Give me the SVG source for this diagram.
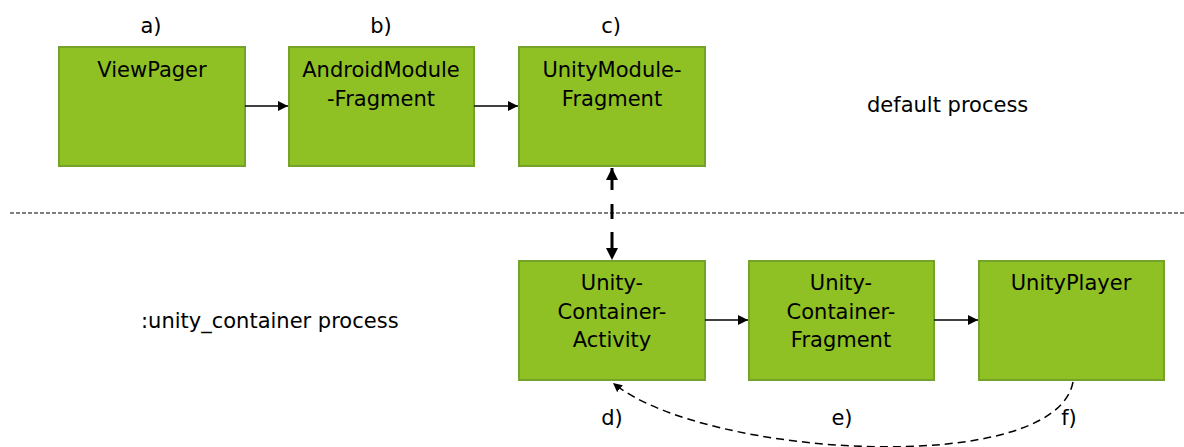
<svg xmlns="http://www.w3.org/2000/svg" width="1184" height="447" viewBox="0 0 1184 447">
<defs>
<style>
.box{fill:#8fc024;stroke:#74a22a;stroke-width:2}
text{font-family:"DejaVu Sans","Liberation Sans",sans-serif;font-size:21px;fill:#000}
.t{text-anchor:middle}
.ln{stroke:#000;stroke-width:1.5;fill:none}
</style>
<marker id="ah" viewBox="0 0 10 10" refX="10" refY="5" markerWidth="10" markerHeight="10" markerUnits="userSpaceOnUse" orient="auto"><path d="M0,0 L10,5 L0,10 z" fill="#000"/></marker>
<marker id="ahb" viewBox="0 0 10 10" refX="10" refY="5" markerWidth="9" markerHeight="9" markerUnits="userSpaceOnUse" orient="auto"><path d="M0,0 L10,5 L0,10 z" fill="#000"/></marker>
<marker id="ahs" viewBox="0 0 10 10" refX="10" refY="5" markerWidth="12" markerHeight="12" markerUnits="userSpaceOnUse" orient="auto-start-reverse"><path d="M0,0 L10,5 L0,10 z" fill="#000"/></marker>
</defs>
<rect width="1184" height="447" fill="#fff"/>
<g id="sep"><line x1="10" y1="213" x2="1184" y2="213" stroke="#000" stroke-width="1.2" stroke-dasharray="4,2"/></g>
<g id="labels">
<text class="t" x="151" y="33">a)</text>
<text class="t" x="381" y="33">b)</text>
<text class="t" x="611" y="33">c)</text>
<text x="867" y="112">default process</text>
<text x="141" y="328">:unity_container process</text>
<text class="t" x="612" y="425">d)</text>
<text class="t" x="842" y="425">e)</text>
<text class="t" x="1069" y="425">f)</text>
</g>
<g id="viewpager"><rect class="box" x="59" y="47" width="186" height="119"/><text class="t" x="152" y="77">ViewPager</text></g>
<g id="androidmodule"><rect class="box" x="289" y="47" width="185" height="119"/><text class="t" x="381" y="77">AndroidModule</text><text class="t" x="381" y="106">-Fragment</text></g>
<g id="unitymodule"><rect class="box" x="519" y="47" width="186" height="119"/><text class="t" x="612" y="77">UnityModule-</text><text class="t" x="612" y="106">Fragment</text></g>
<g id="containeractivity"><rect class="box" x="519" y="261" width="186" height="119"/><text class="t" x="612" y="290">Unity-</text><text class="t" x="612" y="319">Container-</text><text class="t" x="612" y="347">Activity</text></g>
<g id="containerfragment"><rect class="box" x="749" y="261" width="185" height="119"/><text class="t" x="841" y="290">Unity-</text><text class="t" x="841" y="319">Container-</text><text class="t" x="841" y="347">Fragment</text></g>
<g id="unityplayer"><rect class="box" x="979" y="261" width="185" height="119"/><text class="t" x="1071" y="290">UnityPlayer</text></g>
<g id="connectors">
<line class="ln" x1="245" y1="106" x2="288" y2="106" marker-end="url(#ah)"/>
<line class="ln" x1="474" y1="106" x2="518" y2="106" marker-end="url(#ah)"/>
<line class="ln" x1="705" y1="320" x2="748" y2="320" marker-end="url(#ah)"/>
<line class="ln" x1="934" y1="320" x2="978" y2="320" marker-end="url(#ah)"/>
<line x1="612" y1="168" x2="612" y2="260" stroke="#000" stroke-width="3" stroke-dasharray="22,14,15,13,22" marker-start="url(#ahs)" marker-end="url(#ahs)"/>
<path class="ln" d="M1073,382 C1055,478 705,458 613,383" stroke-dasharray="8,5" marker-end="url(#ahb)"/>
</g>
</svg>
